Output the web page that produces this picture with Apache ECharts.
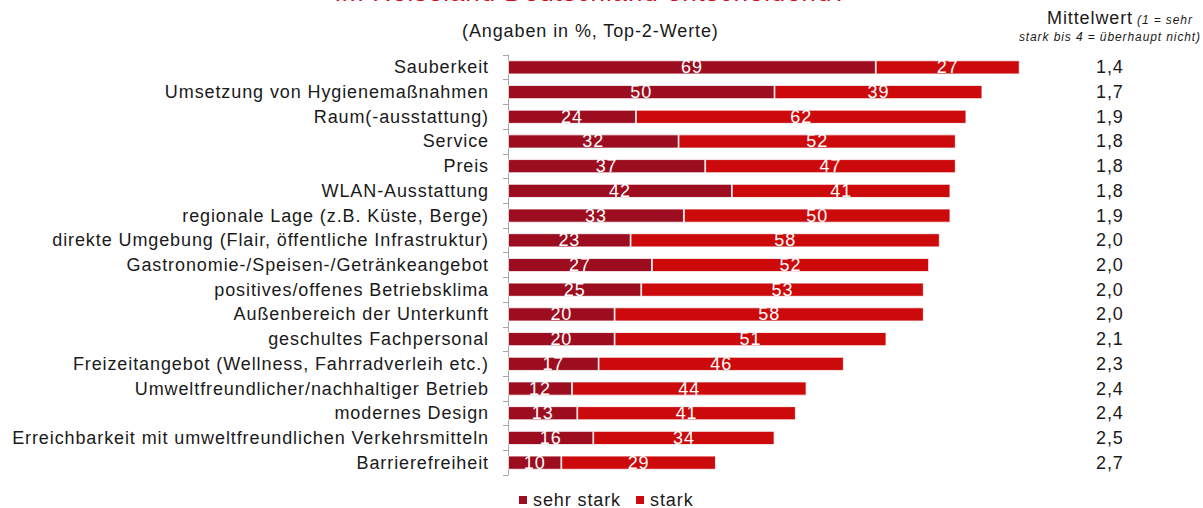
<!DOCTYPE html>
<html>
<head>
<meta charset="utf-8">
<script src="https://cdn.jsdelivr.net/npm/echarts@6/dist/echarts.min.js"></script>
<style>
  html, body { margin: 0; padding: 0; background: #fff; }
  #main { width: 1203px; height: 508px; }
  /* the original typeface runs wider than Arial, so open it up a little */
  #main text { letter-spacing: 0.9px; }
</style>
</head>
<body>
<div id="main"></div>
<script>
// Faktoren (von oben nach unten)
const categories = [
    'Sauberkeit',
    'Umsetzung von Hygienemaßnahmen',
    'Raum(-ausstattung)',
    'Service',
    'Preis',
    'WLAN-Ausstattung',
    'regionale Lage (z.B. Küste, Berge)',
    'direkte Umgebung (Flair, öffentliche Infrastruktur)',
    'Gastronomie-/Speisen-/Getränkeangebot',
    'positives/offenes Betriebsklima',
    'Außenbereich der Unterkunft',
    'geschultes Fachpersonal',
    'Freizeitangebot (Wellness, Fahrradverleih etc.)',
    'Umweltfreundlicher/nachhaltiger Betrieb',
    'modernes Design',
    'Erreichbarkeit mit umweltfreundlichen Verkehrsmitteln',
    'Barrierefreiheit'
];
const sehrStark = [69, 50, 24, 32, 37, 42, 33, 23, 27, 25, 20, 20, 17, 12, 13, 16, 10];
const stark = [27, 39, 62, 52, 47, 41, 50, 58, 52, 53, 58, 51, 46, 44, 41, 34, 29];
const mittelwert = ['1,4', '1,7', '1,9', '1,8', '1,8', '1,8', '1,9', '2,0', '2,0', '2,0', '2,0', '2,1', '2,3', '2,4', '2,4', '2,5', '2,7'];

const FONT = 'Liberation Sans, Arial, sans-serif';
const DARK_RED = '#9c0d1f';
const RED = '#cc0a0c';
const TEXT = '#1a1a1a';

const chart = echarts.init(document.getElementById('main'), null, { renderer: 'svg' });

const barLabel = {
    show: true,
    position: 'inside',
    color: '#fff',
    fontFamily: FONT,
    fontSize: 18
};

chart.setOption({
    animation: false,
    textStyle: { fontFamily: FONT },
    title: [{
        text: 'im Reiseland Deutschland entscheidend?',
        left: 330,
        top: -26,
        textStyle: { color: '#d0101a', fontSize: 26, fontWeight: 'normal', fontFamily: FONT }
    }, {
        text: '(Angaben in %, Top-2-Werte)',
        left: 457,
        top: 17,
        textStyle: { color: TEXT, fontSize: 18, fontWeight: 'normal', fontFamily: FONT }
    }],
    graphic: [{
        type: 'text',
        x: 1047,
        y: 18,
        style: {
            text: 'Mittelwert',
            fontSize: 18,
            fontFamily: FONT,
            fill: TEXT,
            textAlign: 'left',
            textVerticalAlign: 'middle'
        }
    }, {
        type: 'text',
        x: 1137,
        y: 20,
        style: {
            text: '(1 = sehr',
            fontSize: 12,
            fontStyle: 'italic',
            fontFamily: FONT,
            fill: TEXT,
            textAlign: 'left',
            textVerticalAlign: 'middle'
        }
    }, {
        type: 'text',
        x: 1201,
        y: 37,
        style: {
            text: 'stark bis 4 = überhaupt nicht)',
            fontSize: 12,
            fontStyle: 'italic',
            fontFamily: FONT,
            fill: TEXT,
            textAlign: 'right',
            textVerticalAlign: 'middle'
        }
    }],
    legend: {
        top: 486,
        left: 512,
        icon: 'rect',
        itemWidth: 10,
        itemHeight: 10,
        itemGap: 22,
        textStyle: { fontSize: 18, color: TEXT, fontFamily: FONT },
        data: ['sehr stark', 'stark']
    },
    grid: { left: 508, right: 162, top: 55, bottom: 33, containLabel: false },
    xAxis: {
        type: 'value',
        min: 0,
        max: 100,
        show: false
    },
    yAxis: [{
        type: 'category',
        data: categories,
        inverse: true,
        axisLine: { show: true, lineStyle: { color: '#a6a6a6' } },
        axisTick: { show: true, length: 5, lineStyle: { color: '#a6a6a6' } },
        axisLabel: { color: TEXT, fontSize: 18, margin: 19, fontFamily: FONT }
    }, {
        type: 'category',
        data: mittelwert,
        inverse: true,
        position: 'right',
        axisLine: { show: false },
        axisTick: { show: false },
        axisLabel: { color: TEXT, fontSize: 18, margin: 55, fontFamily: FONT, align: 'left' }
    }],
    series: [{
        name: 'sehr stark',
        type: 'bar',
        stack: 'total',
        barWidth: 14,
        data: sehrStark,
        itemStyle: { color: DARK_RED, borderColor: '#fff', borderWidth: 0.8 },
        label: barLabel
    }, {
        name: 'stark',
        type: 'bar',
        stack: 'total',
        barWidth: 14,
        data: stark,
        itemStyle: { color: RED, borderColor: '#fff', borderWidth: 0.8 },
        label: barLabel
    }]
});
</script>
</body>
</html>
